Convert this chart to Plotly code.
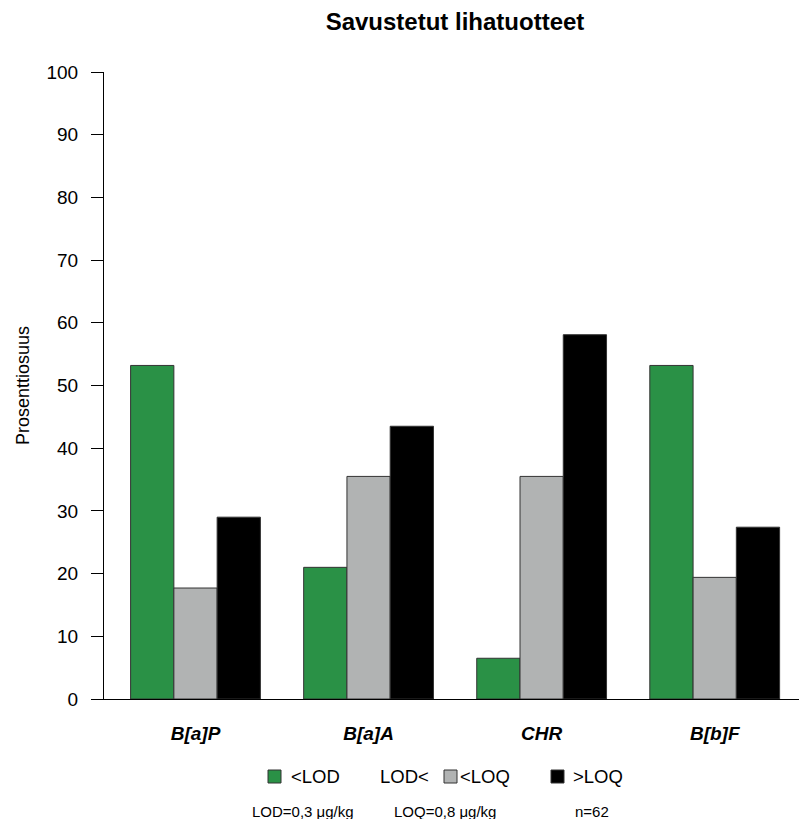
import plotly.graph_objects as go

categories = ["B[a]P", "B[a]A", "CHR", "B[b]F"]
series_names = ["<LOD", "LOD< <LOQ", ">LOQ"]
lt_lod = [53.2, 21.0, 6.5, 53.2]
lod_loq = [17.7, 35.5, 35.5, 19.4]
gt_loq = [29.0, 43.5, 58.1, 27.4]
colors = ["#2a9146", "#b1b3b3", "#000000"]
y_ticks = list(range(0, 101, 10))

W, H = 799, 819
L, R, T, B = 104, 0, 72, 120
PW, PH = W - L - R, H - T - B


def px(x):
    return (x - L) / PW


def py(y):
    return (H - B - y) / PH


fig = go.Figure()
xs = list(range(len(categories)))
for name, vals, c in zip(series_names, [lt_lod, lod_loq, gt_loq], colors):
    fig.add_trace(go.Bar(x=xs, y=vals, name=name, marker=dict(color=c, line=dict(color="#333333", width=1)),
                         showlegend=False))

fig.update_layout(
    width=W, height=H,
    margin=dict(l=L, r=R, t=T, b=B),
    paper_bgcolor="white", plot_bgcolor="white",
    barmode="group", bargap=0.25, bargroupgap=0,
    font=dict(family="Liberation Sans, Arial", size=18, color="#000"),
    title=dict(text="<b>Savustetut lihatuotteet</b>", x=px(455), xref="paper", xanchor="center",
               y=1 - 22 / H, yanchor="middle", font=dict(size=24)),
    xaxis=dict(range=[(L - 195.5) / 173.07, (W - 195.5) / 173.07], tickvals=xs,
               ticktext=[f"<b><i>{c}</i></b>" for c in categories],
               showline=True, linecolor="#000", linewidth=1, ticks="", showgrid=False, zeroline=False,
               ticklabelstandoff=17, tickfont=dict(size=19)),
    yaxis=dict(range=[0, 100], tickvals=y_ticks, showline=True, linecolor="#000", linewidth=1,
               ticks="outside", ticklen=12, tickcolor="#000", showgrid=False, zeroline=False,
               ticklabelstandoff=9, tickfont=dict(size=19),
               title=dict(text="Prosenttiosuus", standoff=12, font=dict(size=18))),
)

# legend
legend_items = [(268, "<LOD", 289, None, None), (444, "<LOQ", 458, 378, "LOD<"), (551, ">LOQ", 571, None, None)]
for (sx, label, tx, px2, pre), c in zip(legend_items, colors):
    fig.add_shape(type="rect", xref="paper", yref="paper", x0=px(sx), x1=px(sx + 13), y0=py(783), y1=py(770),
                  fillcolor=c, line=dict(color="#333333", width=1))
    fig.add_annotation(text=label, xref="paper", yref="paper", x=px(tx), y=py(776), xanchor="left",
                       yanchor="middle", showarrow=False, font=dict(size=18.5))
    if pre:
        fig.add_annotation(text=pre, xref="paper", yref="paper", x=px(px2), y=py(776), xanchor="left",
                           yanchor="middle", showarrow=False, font=dict(size=18.5))

notes = [(250, "LOD=0,3 μg/kg"), (392, "LOQ=0,8 μg/kg"), (573, "n=62")]
for nx, t in notes:
    fig.add_annotation(text=t, xref="paper", yref="paper", x=px(nx), y=py(811), xanchor="left",
                       yanchor="middle", showarrow=False, font=dict(size=15))

fig.write_html("out.html", config={"displayModeBar": False},
               post_script="document.body.style.margin='0';document.body.style.overflow='hidden';")
